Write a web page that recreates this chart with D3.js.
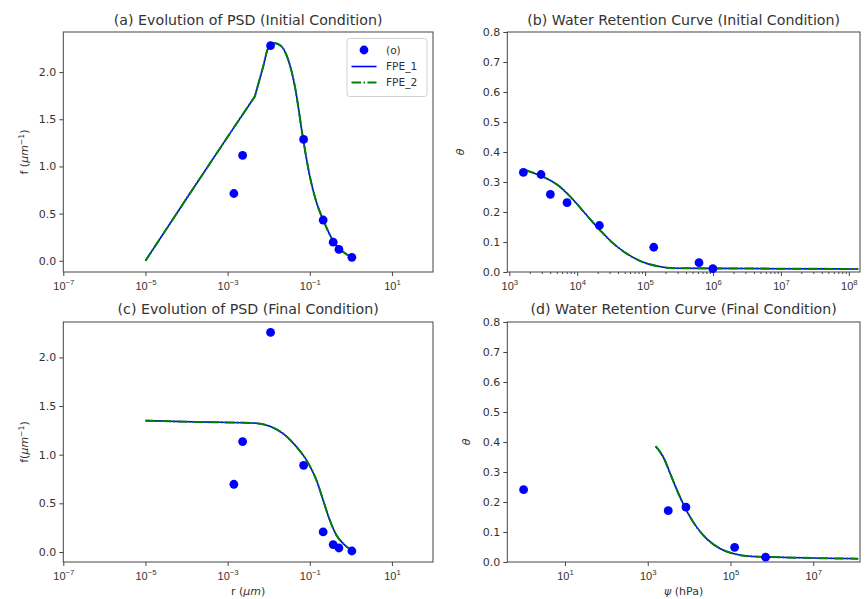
<!DOCTYPE html>
<html>
<head>
<meta charset="utf-8">
<script src="https://cdn.jsdelivr.net/npm/d3@7"></script>
<style>
  html, body { margin: 0; padding: 0; background: #fff; }
  svg { display: block; font-family: "DejaVu Sans", sans-serif; }
</style>
</head>
<body>
<svg id="fig" width="867" height="599"></svg>
<script>
// ---- particle size distribution: measured points (shared radii) ----
const psdObsR        = [0.00142, 0.00232, 0.0111, 0.0708, 0.212, 0.372, 0.513, 1.06];
const psdInitObsF    = [0.713, 1.117, 2.28, 1.286, 0.432, 0.197, 0.12, 0.037];
const psdFinalObsF   = [0.696, 1.135, 2.257, 0.891, 0.206, 0.076, 0.041, 0.01];

// ---- PSD model curves ----
const psdInitFitR    = [1e-5, 1e-4, 1e-3, 0.00461, 0.00735, 0.00973, 0.0141, 0.0206, 0.0299,
                        0.0434, 0.0692, 0.1, 0.146, 0.212, 0.372, 0.513, 1.06];
const psdInitFitF    = [0.0, 0.66, 1.313, 1.743, 2.06, 2.254, 2.307, 2.271, 2.13,
                        1.849, 1.286, 0.898, 0.617, 0.433, 0.211, 0.135, 0.035];
const psdFinalFitR   = [1e-5, 2.14e-4, 6.46e-4, 0.0042, 0.0107, 0.0225, 0.0479, 0.0836,
                        0.146, 0.212, 0.308, 0.447, 0.65, 1.0];
const psdFinalFitF   = [1.35, 1.336, 1.333, 1.326, 1.292, 1.217, 1.079, 0.942,
                        0.737, 0.531, 0.326, 0.172, 0.086, 0.025];

// ---- water retention: measured points ----
const wrcInitObsPsi    = [1610, 2930, 4020, 7080, 21200, 134000, 622000, 995000];
const wrcInitObsTheta  = [0.332, 0.325, 0.259, 0.231, 0.155, 0.0825, 0.031, 0.011];
const wrcFinalObsPsi   = [1.0, 3130, 8380, 126000, 705000];
const wrcFinalObsTheta = [0.241, 0.171, 0.183, 0.049, 0.016];

// ---- water retention model curves ----
const wrcInitFitPsi    = [1700, 3160, 5580, 8770, 13800, 21700, 34000, 53600, 84100,
                          148000, 292000, 1e6, 1e7, 1.38e8];
const wrcInitFitTheta  = [0.340, 0.317, 0.284, 0.240, 0.189, 0.139, 0.095, 0.061, 0.037,
                          0.020, 0.0124, 0.012, 0.011, 0.010];
const wrcFinalFitPsi   = [1550, 2370, 3780, 6000, 9510, 15100, 26300, 55500, 116000,
                          295000, 1.55e6, 1.22e8];
const wrcFinalFitTheta = [0.386, 0.35, 0.283, 0.217, 0.161, 0.117, 0.078, 0.045, 0.028,
                          0.019, 0.0157, 0.011];

// ---- axis ticks ----
const psdXTickExp   = [-7, -5, -3, -1, 1];
const wrcInitXExp   = [3, 4, 5, 6, 7, 8];
const wrcFinalXExp  = [1, 3, 5, 7];
const psdYTicks     = [0.0, 0.5, 1.0, 1.5, 2.0];
const wrcYTicks     = [0.0, 0.1, 0.2, 0.3, 0.4, 0.5, 0.6, 0.7, 0.8];

const seriesNames = ["(o)", "FPE_1", "FPE_2"];

const INK = "#333";
const SPINE = "#444";
const BLUE = "#0000ff";
const GREEN = "#008000";
const DASHDOT = "9.6,2.4,1.5,2.4";
const MARKER_R = 4.4;

const svg = d3.select("#fig");
const fmt1 = d3.format(".1f");
let clipId = 0;

function addRich(sel, parts) {
  // parts: [{t, italic, sup}]
  let raised = false;
  parts.forEach(p => {
    const ts = sel.append("tspan").text(p.t);
    if (p.italic) ts.attr("font-style", "italic");
    if (p.sup && !raised) { ts.attr("dy", -4).attr("font-size", "0.7em"); raised = true; }
    else if (!p.sup && raised) { ts.attr("dy", 4); raised = false; }
    else if (p.sup) ts.attr("font-size", "0.7em");
  });
}

function drawPanel(p) {
  const g = svg.append("g");
  const x = d3.scaleLog().domain(p.xDomain).range([p.x0, p.x1]);
  const y = d3.scaleLinear().domain(p.yDomain).range([p.y1, p.y0]);

  const cid = "clip" + (clipId++);
  g.append("clipPath").attr("id", cid).append("rect")
    .attr("x", p.x0).attr("y", p.y0).attr("width", p.x1 - p.x0).attr("height", p.y1 - p.y0);

  // x axis: major ticks as powers of ten
  const xAxis = d3.axisBottom(x).tickValues(p.xExp.map(e => Math.pow(10, e)))
    .tickSize(4).tickPadding(3).tickFormat("");
  const gx = g.append("g").attr("transform", `translate(0,${p.y1})`).call(xAxis);
  gx.select(".domain").remove();
  gx.selectAll(".tick line").attr("stroke", SPINE);
  gx.selectAll(".tick").each(function(d, i) {
    const t = d3.select(this).append("text")
      .attr("y", 18).attr("fill", INK).attr("font-size", 11)
      .attr("text-anchor", "middle");
    t.append("tspan").text("10");
    const e = p.xExp[i];
    t.append("tspan").attr("dy", -5).attr("font-size", 7.7).text(e < 0 ? "\u2212" + (-e) : String(e));
  });

  if (p.minor) {
    const minors = [];
    const lo = Math.floor(Math.log10(p.xDomain[0])), hi = Math.ceil(Math.log10(p.xDomain[1]));
    for (let k = lo; k <= hi; k++)
      for (let m = 2; m <= 9; m++) {
        const v = m * Math.pow(10, k);
        if (v >= p.xDomain[0] && v <= p.xDomain[1]) minors.push(v);
      }
    const gm = g.append("g").attr("transform", `translate(0,${p.y1})`)
      .call(d3.axisBottom(x).tickValues(minors).tickSize(2).tickFormat(""));
    gm.select(".domain").remove();
    gm.selectAll(".tick line").attr("stroke", SPINE);
  }

  // y axis
  const gy = g.append("g").attr("transform", `translate(${p.x0},0)`)
    .call(d3.axisLeft(y).tickValues(p.yTicks).tickSize(4).tickPadding(3).tickFormat(fmt1));
  gy.select(".domain").remove();
  gy.selectAll(".tick line").attr("stroke", SPINE);
  gy.selectAll(".tick text").attr("fill", INK).attr("font-size", 11)
    .attr("font-family", "DejaVu Sans, sans-serif");

  // frame
  g.append("rect").attr("x", p.x0).attr("y", p.y0)
    .attr("width", p.x1 - p.x0).attr("height", p.y1 - p.y0)
    .attr("fill", "none").attr("stroke", SPINE).attr("stroke-width", 1);

  // model curves: FPE_1 solid blue, FPE_2 dash-dot green on top.
  // A curve may have a corner (kink index): the part before it is straight.
  const fit = p.fitX.map((v, i) => [v, p.fitY[i]]);
  const smooth = d3.line().x(d => x(d[0])).y(d => y(d[1])).curve(d3.curveMonotoneX);
  const straight = d3.line().x(d => x(d[0])).y(d => y(d[1])).curve(d3.curveLinear);
  const pathD = p.kink != null
    ? straight(fit.slice(0, p.kink + 1)) + smooth(fit.slice(p.kink)).replace(/^M[^LC]*/, "")
    : smooth(fit);
  const lines = g.append("g").attr("clip-path", `url(#${cid})`);
  lines.append("path").attr("d", pathD)
    .attr("fill", "none").attr("stroke", BLUE).attr("stroke-width", 1.6);
  lines.append("path").attr("d", pathD)
    .attr("fill", "none").attr("stroke", GREEN).attr("stroke-width", 2)
    .attr("stroke-dasharray", DASHDOT);

  // measured points
  const obs = p.obsX.map((v, i) => [v, p.obsY[i]]);
  g.append("g").selectAll("circle").data(obs).join("circle")
    .attr("cx", d => x(d[0])).attr("cy", d => y(d[1])).attr("r", MARKER_R)
    .attr("fill", BLUE);

  // title
  g.append("text").attr("x", (p.x0 + p.x1) / 2).attr("y", p.titleY)
    .attr("text-anchor", "middle").attr("font-size", 14.2).attr("fill", INK)
    .text(p.title);

  // y label
  const yl = g.append("text")
    .attr("transform", `translate(${p.ylabelX},${(p.y0 + p.y1) / 2}) rotate(-90)`)
    .attr("text-anchor", "middle").attr("font-size", 11).attr("fill", INK);
  addRich(yl, p.ylabel);

  // x label
  if (p.xlabel) {
    const xl = g.append("text").attr("x", (p.x0 + p.x1) / 2).attr("y", 595)
      .attr("text-anchor", "middle").attr("font-size", 11).attr("fill", INK);
    addRich(xl, p.xlabel);
  }

  if (p.legend) {
    const lg = g.append("g");
    lg.append("rect").attr("x", 347).attr("y", 38.5).attr("width", 80).attr("height", 58)
      .attr("rx", 2.5).attr("fill", "#fff").attr("fill-opacity", 0.8)
      .attr("stroke", "#d0d0d0").attr("stroke-width", 1);
    const rows = [50, 66.5, 82.5];
    lg.append("circle").attr("cx", 364).attr("cy", rows[0]).attr("r", MARKER_R).attr("fill", BLUE);
    lg.append("line").attr("x1", 351.5).attr("x2", 376.5).attr("y1", rows[1]).attr("y2", rows[1])
      .attr("stroke", BLUE).attr("stroke-width", 1.6);
    lg.append("line").attr("x1", 351.5).attr("x2", 376.5).attr("y1", rows[2]).attr("y2", rows[2])
      .attr("stroke", GREEN).attr("stroke-width", 2).attr("stroke-dasharray", DASHDOT);
    seriesNames.forEach((s, i) => {
      lg.append("text").attr("x", 386).attr("y", rows[i] + 3.8)
        .attr("font-size", 10.6).attr("fill", INK).text(s);
    });
  }
}

const L = { x0: 63.3, x1: 433 }, R = { x0: 507.3, x1: 860 };
const TOP = { y0: 32, y1: 272, titleY: 25 }, BOT = { y0: 322, y1: 562, titleY: 314 };

drawPanel({
  ...L, ...TOP,
  xDomain: [1e-7, 1e2], yDomain: [-0.119, 2.425],
  xExp: psdXTickExp, minor: false, yTicks: psdYTicks,
  title: "(a) Evolution of PSD (Initial Condition)",
  ylabelX: 28,
  ylabel: [{ t: "f (" }, { t: "\u03bcm", italic: true }, { t: "\u22121", sup: true }, { t: ")" }],
  obsX: psdObsR, obsY: psdInitObsF, fitX: psdInitFitR, fitY: psdInitFitF, kink: 3, legend: true
});

drawPanel({
  ...R, ...TOP,
  xDomain: [Math.pow(10, 2.97), Math.pow(10, 8.165)], yDomain: [0, 0.8],
  xExp: wrcInitXExp, minor: true, yTicks: wrcYTicks,
  title: "(b) Water Retention Curve (Initial Condition)",
  ylabelX: 463.5,
  ylabel: [{ t: "\u03b8", italic: true }],
  obsX: wrcInitObsPsi, obsY: wrcInitObsTheta, fitX: wrcInitFitPsi, fitY: wrcInitFitTheta
});

drawPanel({
  ...L, ...BOT,
  xDomain: [1e-7, 1e2], yDomain: [-0.103, 2.364],
  xExp: psdXTickExp, minor: false, yTicks: psdYTicks,
  title: "(c) Evolution of PSD (Final Condition)",
  ylabelX: 28,
  ylabel: [{ t: "f(" }, { t: "\u03bcm", italic: true }, { t: "\u22121", sup: true }, { t: ")" }],
  xlabel: [{ t: "r (" }, { t: "\u03bcm", italic: true }, { t: ")" }],
  obsX: psdObsR, obsY: psdFinalObsF, fitX: psdFinalFitR, fitY: psdFinalFitF
});

drawPanel({
  ...R, ...BOT,
  xDomain: [Math.pow(10, -0.394), Math.pow(10, 8.13)], yDomain: [0, 0.8],
  xExp: wrcFinalXExp, minor: false, yTicks: wrcYTicks,
  title: "(d) Water Retention Curve (Final Condition)",
  ylabelX: 470,
  ylabel: [{ t: "\u03b8", italic: true }],
  xlabel: [{ t: "\u03c8", italic: true }, { t: " (hPa)" }],
  obsX: wrcFinalObsPsi, obsY: wrcFinalObsTheta, fitX: wrcFinalFitPsi, fitY: wrcFinalFitTheta
});
</script>
</body>
</html>
